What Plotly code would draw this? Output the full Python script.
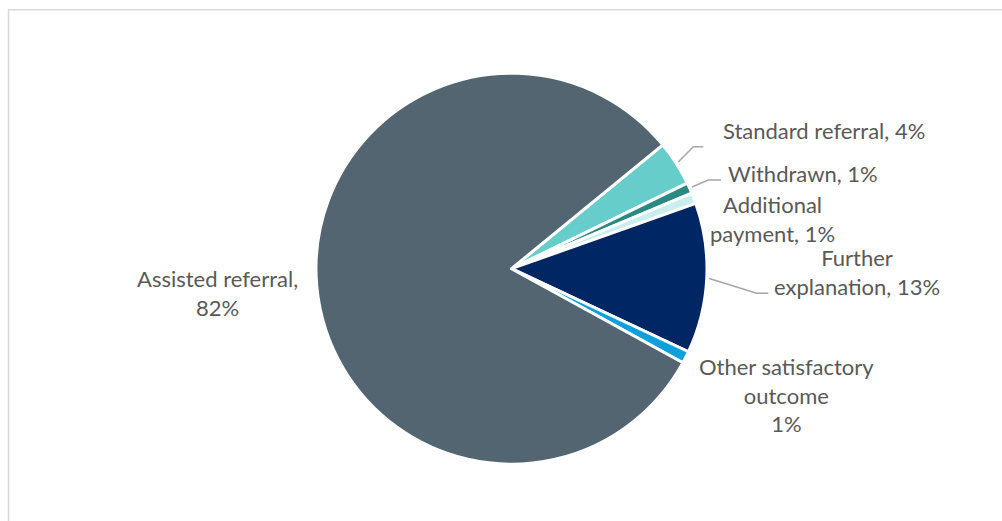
import math
import plotly.graph_objects as go

# ---- data ----
categories = ["Standard referral", "Withdrawn", "Additional payment",
              "Further explanation", "Other satisfactory outcome", "Assisted referral"]
values = [3.7, 0.9, 0.9, 12.4, 1.0, 81.1]
shown_pct = [4, 1, 1, 13, 1, 82]
colors = ["#66CDCA", "#2A8A82", "#C9EEF0", "#002663", "#0FA0DC", "#536571"]

W, H = 1002, 521
CX, CY, R = 511.5, 268.7, 195.5
ROT = 50.7

def px(x):
    return x / W

def py(y):
    return 1 - y / H

fig = go.Figure(go.Pie(
    labels=categories, values=values, sort=False, direction="clockwise",
    rotation=ROT, textinfo="none", hoverinfo="label+percent",
    marker=dict(colors=colors, line=dict(color="white", width=3)),
    domain=dict(x=[px(CX - R), px(CX + R)], y=[py(CY + R), py(CY - R)]),
    showlegend=False,
))

# label texts
label_text = [
    f"Standard referral, {shown_pct[0]}%",
    f"Withdrawn, {shown_pct[1]}%",
    f"Additional<br>payment, {shown_pct[2]}%",
    f"Further<br>explanation, {shown_pct[3]}%",
    f"Other satisfactory<br>outcome<br>{shown_pct[4]}%",
    f"Assisted referral,<br>{shown_pct[5]}%",
]
# label layout (pixel positions, anchor)
label_pos = [
    (721, 130, "left"),
    (726, 173, "left"),
    (772, 219, "center"),
    (857, 272, "center"),
    (786, 395, "center"),
    (217, 293, "center"),
]
font = dict(family="Lato, 'Open Sans', sans-serif", size=22, color="#595959")
annotations = []
for t, (x, y, anc) in zip(label_text, label_pos):
    annotations.append(dict(text=t, x=px(x), y=py(y), xref="paper", yref="paper",
                            xanchor=anc, yanchor="middle", showarrow=False,
                            font=font, align="center"))

# leader lines: start at slice mid-angle just outside the pie
total = sum(values)
mids = []
acc = 0
for v in values:
    mids.append(ROT + (acc + v / 2) / total * 360)
    acc += v

leader = {0: [(693.3, 146.7), (703.3, 146.7)],
          1: [(708.3, 180.0), (721.0, 180.0)],
          3: [(756.7, 293.3), (768.3, 293.3)]}
shapes = []
for i, pts in leader.items():
    a = math.radians(mids[i])
    sx = CX + (R + 2.5) * math.sin(a)
    sy = CY - (R + 2.5) * math.cos(a)
    path = f"M {px(sx)},{py(sy)}" + "".join(f" L {px(x)},{py(y)}" for x, y in pts)
    shapes.append(dict(type="path", path=path, xref="paper", yref="paper",
                       line=dict(color="#A6A6A6", width=1.5)))

# chart area border
shapes.append(dict(type="rect", xref="paper", yref="paper",
                   x0=px(8.5), y0=py(530), x1=px(1012), y1=py(9.8),
                   line=dict(color="#D9D9D9", width=1.5), layer="below"))

fig.update_layout(
    width=W, height=H, margin=dict(l=0, r=0, t=0, b=0),
    paper_bgcolor="white", plot_bgcolor="white",
    annotations=annotations, shapes=shapes,
)
fig.write_html("out.html")
